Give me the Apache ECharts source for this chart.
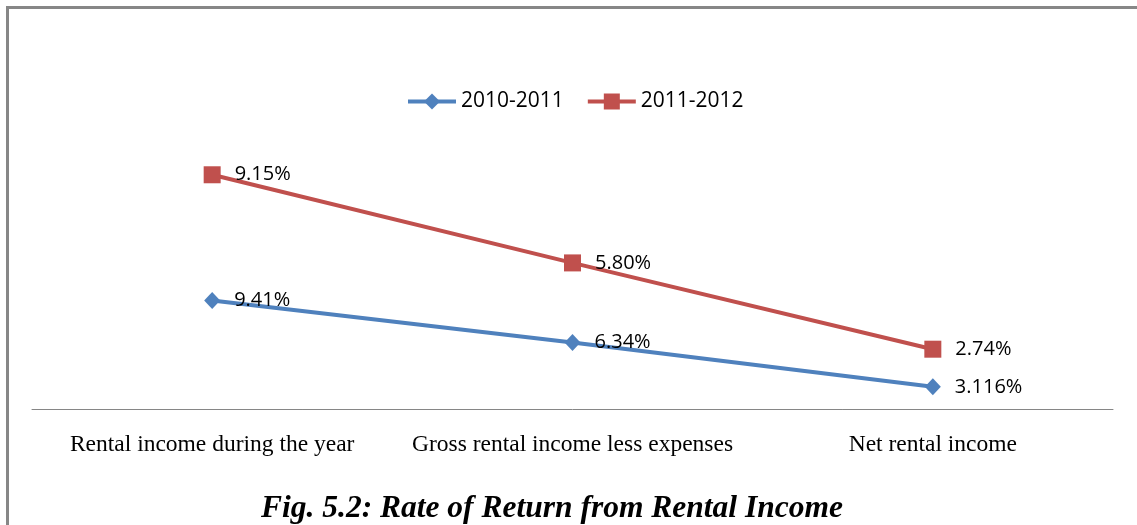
<!DOCTYPE html>
<html>
<head>
<meta charset="utf-8">
<title>Rate of Return from Rental Income</title>
<script src="https://cdn.jsdelivr.net/npm/echarts@6/dist/echarts.min.js"></script>
<style>
  html, body { margin: 0; padding: 0; background: #ffffff; }
  #chart { width: 1137px; height: 525px; }
</style>
</head>
<body>
<div id="chart"></div>
<script>
// Categories and yearly rates of return (%)
const categories = ['Rental income during the year', 'Gross rental income less expenses', 'Net rental income'];
const seriesNames = ['2010-2011', '2011-2012'];
const rates2010_2011 = [9.41, 6.34, 3.116];
const rates2011_2012 = [9.15, 5.80, 2.74];
const figureTitle = 'Fig. 5.2: Rate of Return from Rental Income';

// Show two decimals unless the value carries a third one
function pct(v) {
  const hundredths = v * 100;
  const dec = Math.abs(hundredths - Math.round(hundredths)) < 1e-9 ? 2 : 3;
  return v.toFixed(dec) + '%';
}

const labelStyle = {
  show: true,
  position: 'right',
  distance: 14,
  color: '#000000',
  fontFamily: 'Open Sans',
  fontSize: 20,
  formatter: p => pct(p.value)
};

const chart = echarts.init(document.getElementById('chart'), null, { renderer: 'canvas' });

chart.setOption({
  animation: false,
  backgroundColor: '#ffffff',
  title: {
    text: figureTitle,
    left: 256,
    top: 488,
    textStyle: {
      fontFamily: 'Liberation Serif',
      fontStyle: 'italic',
      fontWeight: 'bold',
      fontSize: 31.5,
      color: '#000000'
    }
  },
  legend: {
    data: seriesNames,
    top: 86,
    left: 401,
    itemWidth: 48,
    itemHeight: 20,
    itemGap: 22,
    lineStyle: { width: 4 },
    textStyle: { fontFamily: 'Open Sans', fontSize: 21, color: '#000000' }
  },
  grid: { left: 32, right: 24, top: 155, bottom: 116 },
  xAxis: {
    type: 'category',
    data: categories,
    boundaryGap: true,
    axisLine: { show: true, lineStyle: { color: '#868686', width: 1 } },
    axisTick: { show: false },
    axisLabel: {
      interval: 0,
      margin: 24,
      color: '#000000',
      fontFamily: 'Liberation Serif',
      fontSize: 23.5
    }
  },
  yAxis: {
    type: 'value',
    min: 1.5,
    max: 20,
    show: false,
    splitLine: { show: false }
  },
  series: [
    {
      name: seriesNames[0],
      type: 'line',
      stack: 'rates',
      data: rates2010_2011,
      color: '#4F81BD',
      symbol: 'diamond',
      symbolSize: [16, 17],
      lineStyle: { width: 4, color: '#4F81BD' },
      itemStyle: { color: '#4F81BD' },
      label: labelStyle
    },
    {
      name: seriesNames[1],
      type: 'line',
      stack: 'rates',
      data: rates2011_2012,
      color: '#C0504D',
      symbol: 'rect',
      symbolSize: 17,
      lineStyle: { width: 4, color: '#C0504D' },
      itemStyle: { color: '#C0504D' },
      label: labelStyle
    }
  ],
  graphic: [
    {
      type: 'rect',
      silent: true,
      z: 100,
      shape: { x: 7.5, y: 7.5, width: 1300, height: 700 },
      style: { fill: null, stroke: '#878787', lineWidth: 3 }
    }
  ]
});
</script>
</body>
</html>
